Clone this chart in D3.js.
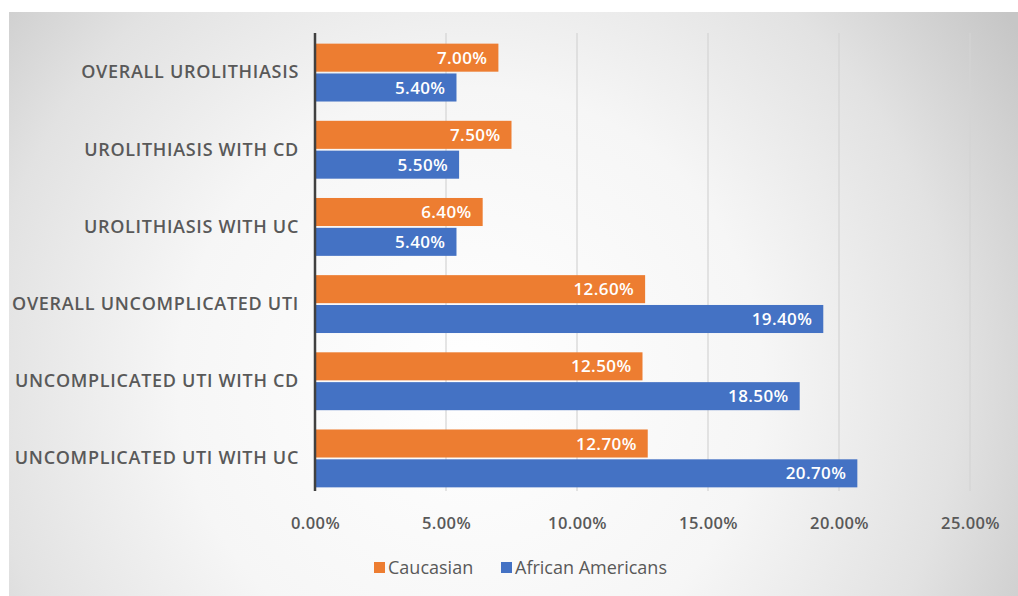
<!DOCTYPE html>
<html>
<head>
<meta charset="utf-8">
<script src="https://cdn.jsdelivr.net/npm/d3@7/dist/d3.min.js"></script>
<style>
  html, body { margin: 0; padding: 0; background: #ffffff; }
  svg { display: block; }
</style>
</head>
<body>
<svg id="chart" width="1018" height="596"></svg>
<script>
const categories = [
  "OVERALL UROLITHIASIS",
  "UROLITHIASIS WITH CD",
  "UROLITHIASIS WITH UC",
  "OVERALL UNCOMPLICATED UTI",
  "UNCOMPLICATED UTI WITH CD",
  "UNCOMPLICATED UTI WITH UC"
];
const seriesNames = ["Caucasian", "African Americans"];
const caucasian = [7.0, 7.5, 6.4, 12.6, 12.5, 12.7];
const africanAmericans = [5.4, 5.5, 5.4, 19.4, 18.5, 20.7];
const tickValues = [0, 5, 10, 15, 20, 25];
const colors = ["#ED7D31", "#4472C4"];

const svg = d3.select("#chart");
const W = 1018, H = 596;
const FONT = "'Open Sans', sans-serif";

// background panel with radial gradient
const defs = svg.append("defs");
const grad = defs.append("radialGradient")
  .attr("id", "bg").attr("gradientUnits", "userSpaceOnUse")
  .attr("cx", 470).attr("cy", 380).attr("r", 650)
  .attr("fx", 470).attr("fy", 380);
grad.append("stop").attr("offset", "0%").attr("stop-color", "#ffffff");
grad.append("stop").attr("offset", "45%").attr("stop-color", "#f6f6f6");
grad.append("stop").attr("offset", "75%").attr("stop-color", "#e2e2e2");
grad.append("stop").attr("offset", "100%").attr("stop-color", "#c6c6c6");
svg.append("rect").attr("x", 9).attr("y", 12).attr("width", W - 9).attr("height", H - 12)
  .attr("fill", "url(#bg)");

const margin = { left: 315, right: 47, top: 34, bottom: 99 };
const x = d3.scaleLinear().domain([0, 25]).range([margin.left, margin.left + 655]);
const y = d3.scaleBand().domain(categories).range([margin.top, H - margin.bottom]).paddingInner(0.25).paddingOuter(0.125);
const sub = d3.scaleBand().domain(seriesNames).range([0, y.bandwidth()]).paddingInner(0.06);

// gridlines
svg.append("g").selectAll("line").data(tickValues.slice(1)).join("line")
  .attr("x1", d => x(d)).attr("x2", d => x(d))
  .attr("y1", margin.top - 1).attr("y2", H - margin.bottom - 6)
  .attr("stroke", "#d4d4d4").attr("stroke-width", 1.2);

// x axis tick labels
const xAxis = d3.axisBottom(x).tickValues(tickValues).tickFormat(d => d3.format(".2f")(d) + "%").tickSize(0);
const gx = svg.append("g").attr("transform", `translate(0,${H - margin.bottom + 17})`).call(xAxis);
gx.select(".domain").remove();
gx.selectAll("text").attr("fill", "#595959").attr("font-family", FONT)
  .attr("font-size", 16.5).attr("font-weight", 600).attr("letter-spacing", 0.4);

// bars
const data = [caucasian, africanAmericans];
seriesNames.forEach((s, si) => {
  const g = svg.append("g");
  g.selectAll("rect").data(categories).join("rect")
    .attr("x", x(0))
    .attr("y", c => y(c) + sub(s))
    .attr("width", (c, i) => x(data[si][i]) - x(0))
    .attr("height", sub.bandwidth())
    .attr("fill", colors[si]);
  g.selectAll("text").data(categories).join("text")
    .attr("x", (c, i) => x(data[si][i]) - 11)
    .attr("y", c => y(c) + sub(s) + sub.bandwidth() / 2)
    .attr("dy", "0.36em")
    .attr("text-anchor", "end")
    .attr("fill", "#ffffff")
    .attr("font-family", FONT)
    .attr("font-size", 17).attr("font-weight", 600).attr("letter-spacing", 0.4)
    .text((c, i) => d3.format(".2f")(data[si][i]) + "%");
});

// y axis
const yAxis = d3.axisLeft(y).tickSize(0).tickPadding(16);
const gy = svg.append("g").attr("transform", `translate(${x(0)},0)`).call(yAxis);
gy.select(".domain").attr("stroke", "#404040").attr("stroke-width", 2.5)
  .attr("d", `M0,${margin.top - 1}V${H - margin.bottom - 6}`);
gy.selectAll("text").attr("fill", "#595959").attr("font-family", FONT)
  .attr("font-size", 18).attr("font-weight", 600).attr("letter-spacing", 0.7);

// legend
const legend = svg.append("g").attr("transform", "translate(374,568)");
const items = [{ name: seriesNames[0], x: 0 }, { name: seriesNames[1], x: 127 }];
items.forEach((it, i) => {
  legend.append("rect").attr("x", it.x).attr("y", -6).attr("width", 11).attr("height", 11).attr("fill", colors[i]);
  legend.append("text").attr("x", it.x + 14).attr("y", 0).attr("dy", "0.35em")
    .attr("fill", "#595959").attr("font-family", FONT)
    .attr("font-size", 18).text(it.name);
});
</script>
</body>
</html>
